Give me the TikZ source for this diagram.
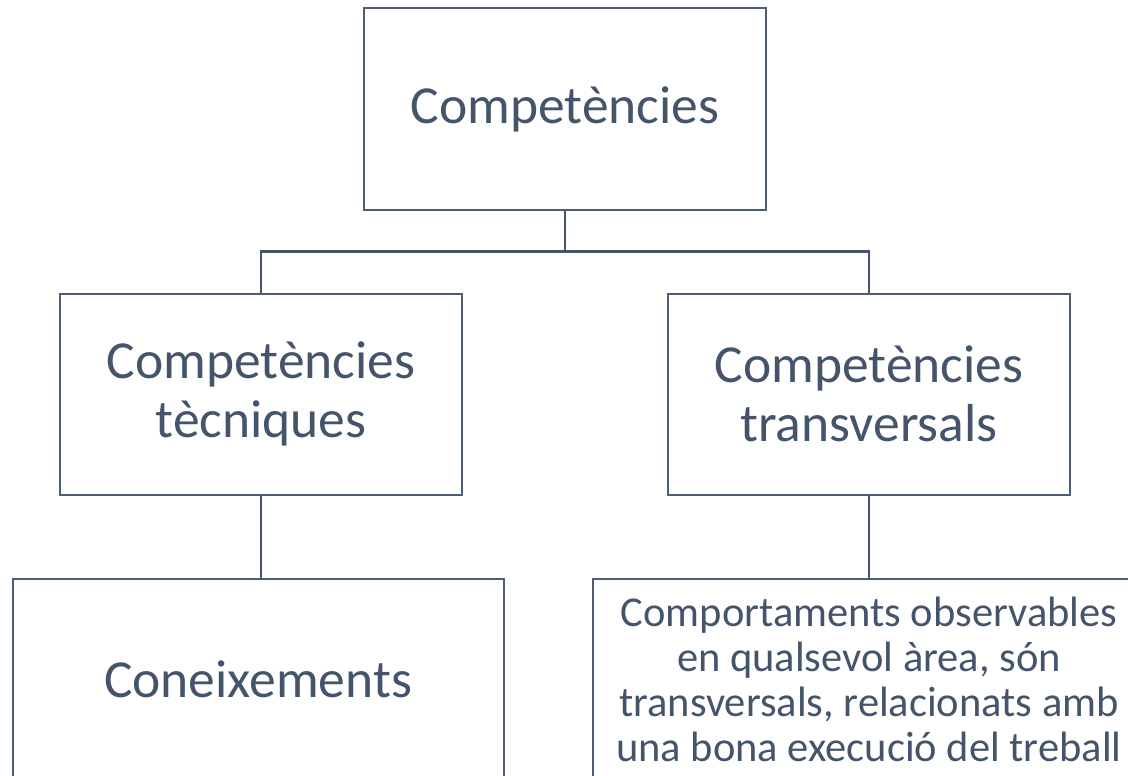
\documentclass[tikz,border=0pt]{standalone}
\usepackage{fontspec}
\setmainfont{Carlito}
\definecolor{slate}{HTML}{44546A}
\definecolor{boxline}{HTML}{4F5E72}

\begin{document}
\begin{tikzpicture}[
  x=1pt, y=-1pt,
  font=\fontsize{53.5}{59}\selectfont,
  every node/.style={align=center, text=slate},
  unit/.style={draw=boxline, line width=2pt, minimum width=402pt, minimum height=201pt, inner sep=0pt},
  small-unit/.style={unit, font=\fontsize{42.5}{45}\selectfont},
  line/.style={-, draw=slate, line width=2.5pt}]

  \useasboundingbox (0,0) rectangle (1128,776);

  % Position the boxes at fixed coordinates
  \node[unit] (comp) at (565,109) {Competències};
  \node[unit] (tec) at (261,394) {Competències\\tècniques};
  \node[unit] (trans) at (869,394) {Competències\\transversals};
  \node[unit, minimum width=491pt, minimum height=200pt] (con) at (258,679) {Coneixements};
  \node[small-unit, minimum width=552pt, minimum height=200pt] (comport) at (869,679)
    {Comportaments observables\\en qualsevol àrea, són\\transversals, relacionats amb\\una bona execució del treball};

  % Draw the lines between the boxes
  \draw[line] (comp.south) -- ++(0,41) -| (tec.north);
  \draw[line] (comp.south) -- ++(0,41) -| (trans.north);
  \draw[line] (tec.south) -- (tec.south |- con.north);
  \draw[line] (trans.south) -- (trans.south |- comport.north);

\end{tikzpicture}
\end{document}
